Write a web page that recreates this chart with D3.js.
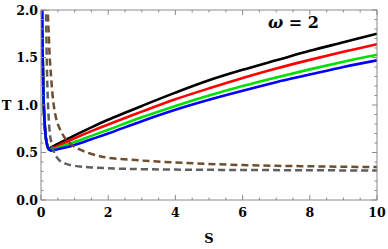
<!DOCTYPE html>
<html>
<head>
<meta charset="utf-8">
<script src="https://cdn.jsdelivr.net/npm/d3@7"></script>
<style>
  body { margin: 0; background: #fff; }
  svg text { font-family: "DejaVu Serif", serif; font-weight: 700; }
</style>
</head>
<body>
<div id="chart"></div>
<script>
// values (S, T)
const leftBranch = [[0.02, 2.3], [0.03, 2.0], [0.05, 1.5], [0.07, 1.15], [0.09, 0.93], [0.12, 0.75], [0.15, 0.64], [0.19, 0.57], [0.23, 0.535]];
const sRight = [0.3, 0.5, 1, 1.5, 2, 3, 4, 5, 6, 7, 8, 9, 10];
const tBlack = [0.555, 0.59, 0.68, 0.765, 0.845, 0.99, 1.13, 1.26, 1.37, 1.47, 1.57, 1.66, 1.75];
const tRed   = [0.54, 0.57, 0.65, 0.725, 0.795, 0.93, 1.06, 1.175, 1.285, 1.385, 1.475, 1.56, 1.64];
const tGreen = [0.53, 0.55, 0.61, 0.675, 0.74, 0.87, 0.99, 1.10, 1.20, 1.29, 1.375, 1.455, 1.53];
const tBlue  = [0.52, 0.535, 0.58, 0.64, 0.70, 0.83, 0.95, 1.055, 1.15, 1.24, 1.32, 1.40, 1.47];

const grayS = [0.14, 0.15, 0.17, 0.19, 0.21, 0.24, 0.27, 0.31, 0.36, 0.45, 0.57, 0.75, 1, 1.5, 2.5, 4, 6, 8, 10];
const grayT = [2.3, 2.0, 1.5, 1.2, 1.0, 0.8, 0.68, 0.6, 0.53, 0.46, 0.41, 0.38, 0.36, 0.343, 0.328, 0.32, 0.316, 0.313, 0.31];
const brownS = [0.18, 0.2, 0.23, 0.26, 0.3, 0.34, 0.4, 0.48, 0.57, 0.76, 1, 1.3, 1.7, 2, 3, 4, 5, 6, 7, 8, 9, 10];
const brownT = [2.3, 2.0, 1.75, 1.5, 1.3, 1.12, 0.95, 0.82, 0.74, 0.63, 0.56, 0.51, 0.465, 0.445, 0.415, 0.395, 0.38, 0.368, 0.36, 0.355, 0.35, 0.347];

const xTicks = [0, 2, 4, 6, 8, 10];
const yTicks = [0, 0.5, 1, 1.5, 2];
const yTickLabels = ["0.0", "0.5", "1.0", "1.5", "2.0"];

const W = 388, H = 249;
const margin = {top: 10, right: 11, bottom: 49, left: 41};
const width = W - margin.left - margin.right;
const height = H - margin.top - margin.bottom;

const svg = d3.select("#chart").append("svg")
    .attr("width", W)
    .attr("height", H);

const g = svg.append("g")
    .attr("transform", `translate(${margin.left}, ${margin.top})`);

const x = d3.scaleLinear().domain([0, 10]).range([0, width]);
const y = d3.scaleLinear().domain([0, 2]).range([height, 0]);

g.append("clipPath").attr("id", "clip")
  .append("rect").attr("width", width).attr("height", height);

const line = d3.line()
    .x(d => x(d[0]))
    .y(d => y(d[1]))
    .curve(d3.curveCatmullRom.alpha(0.5));

const zip = (s, t) => s.map((v, i) => [v, t[i]]);

const curves = g.append("g").attr("clip-path", "url(#clip)");

const solids = [
  {t: tBlack, color: "#000000"},
  {t: tRed, color: "#ff0000"},
  {t: tGreen, color: "#00e000"},
  {t: tBlue, color: "#0000ff"}
];
solids.forEach(c => {
  curves.append("path")
      .datum(leftBranch.concat(zip(sRight, c.t)))
      .attr("fill", "none")
      .attr("stroke", c.color)
      .attr("stroke-width", 2.6)
      .attr("d", line);
});

curves.append("path")
    .datum(zip(brownS, brownT))
    .attr("fill", "none")
    .attr("stroke", "#6e4e2c")
    .attr("stroke-width", 2.5)
    .attr("stroke-dasharray", "7,4")
    .attr("d", line);

curves.append("path")
    .datum(zip(grayS, grayT))
    .attr("fill", "none")
    .attr("stroke", "#5f5f5f")
    .attr("stroke-width", 2.5)
    .attr("stroke-dasharray", "7,4")
    .attr("d", line);

// frame with inward ticks
const frameColor = "#8a8a8a";
g.append("rect")
    .attr("width", width).attr("height", height)
    .attr("fill", "none").attr("stroke", frameColor).attr("stroke-width", 1);

const xMinor = d3.range(0, 10.01, 0.5);
const yMinor = d3.range(0, 2.001, 0.1);
const ticks = g.append("g").attr("stroke", frameColor).attr("stroke-width", 1);
xMinor.forEach(v => {
  const len = xTicks.includes(+v.toFixed(2)) ? 5 : 2.5;
  ticks.append("line").attr("x1", x(v)).attr("x2", x(v)).attr("y1", height).attr("y2", height - len);
  ticks.append("line").attr("x1", x(v)).attr("x2", x(v)).attr("y1", 0).attr("y2", len);
});
yMinor.forEach(v => {
  const len = yTicks.includes(+v.toFixed(2)) ? 5 : 2.5;
  ticks.append("line").attr("y1", y(v)).attr("y2", y(v)).attr("x1", 0).attr("x2", len);
  ticks.append("line").attr("y1", y(v)).attr("y2", y(v)).attr("x1", width).attr("x2", width - len);
});

// tick labels
xTicks.forEach(v => {
  g.append("text")
      .attr("x", x(v))
      .attr("y", height + 16.5)
      .attr("text-anchor", "middle")
      .style("font-size", "12.5px")
      .text(v);
});
yTicks.forEach((v, i) => {
  g.append("text")
      .attr("x", -3)
      .attr("y", y(v) + 4.5)
      .attr("text-anchor", "end")
      .style("font-size", "12.5px")
      .text(yTickLabels[i]);
});

// axis labels
svg.append("text")
    .attr("x", 6.5)
    .attr("y", 110)
    .attr("text-anchor", "middle")
    .style("font-size", "13px")
    .text("T");
svg.append("text")
    .attr("x", 209)
    .attr("y", 243)
    .attr("text-anchor", "middle")
    .style("font-size", "13px")
    .text("S");

// omega label
const om = svg.append("text")
    .attr("x", 268)
    .attr("y", 27.5)
    .style("font-size", "16px");
om.append("tspan").style("font-style", "italic").text("ω");
om.append("tspan").text(" = 2");
</script>
</body>
</html>
